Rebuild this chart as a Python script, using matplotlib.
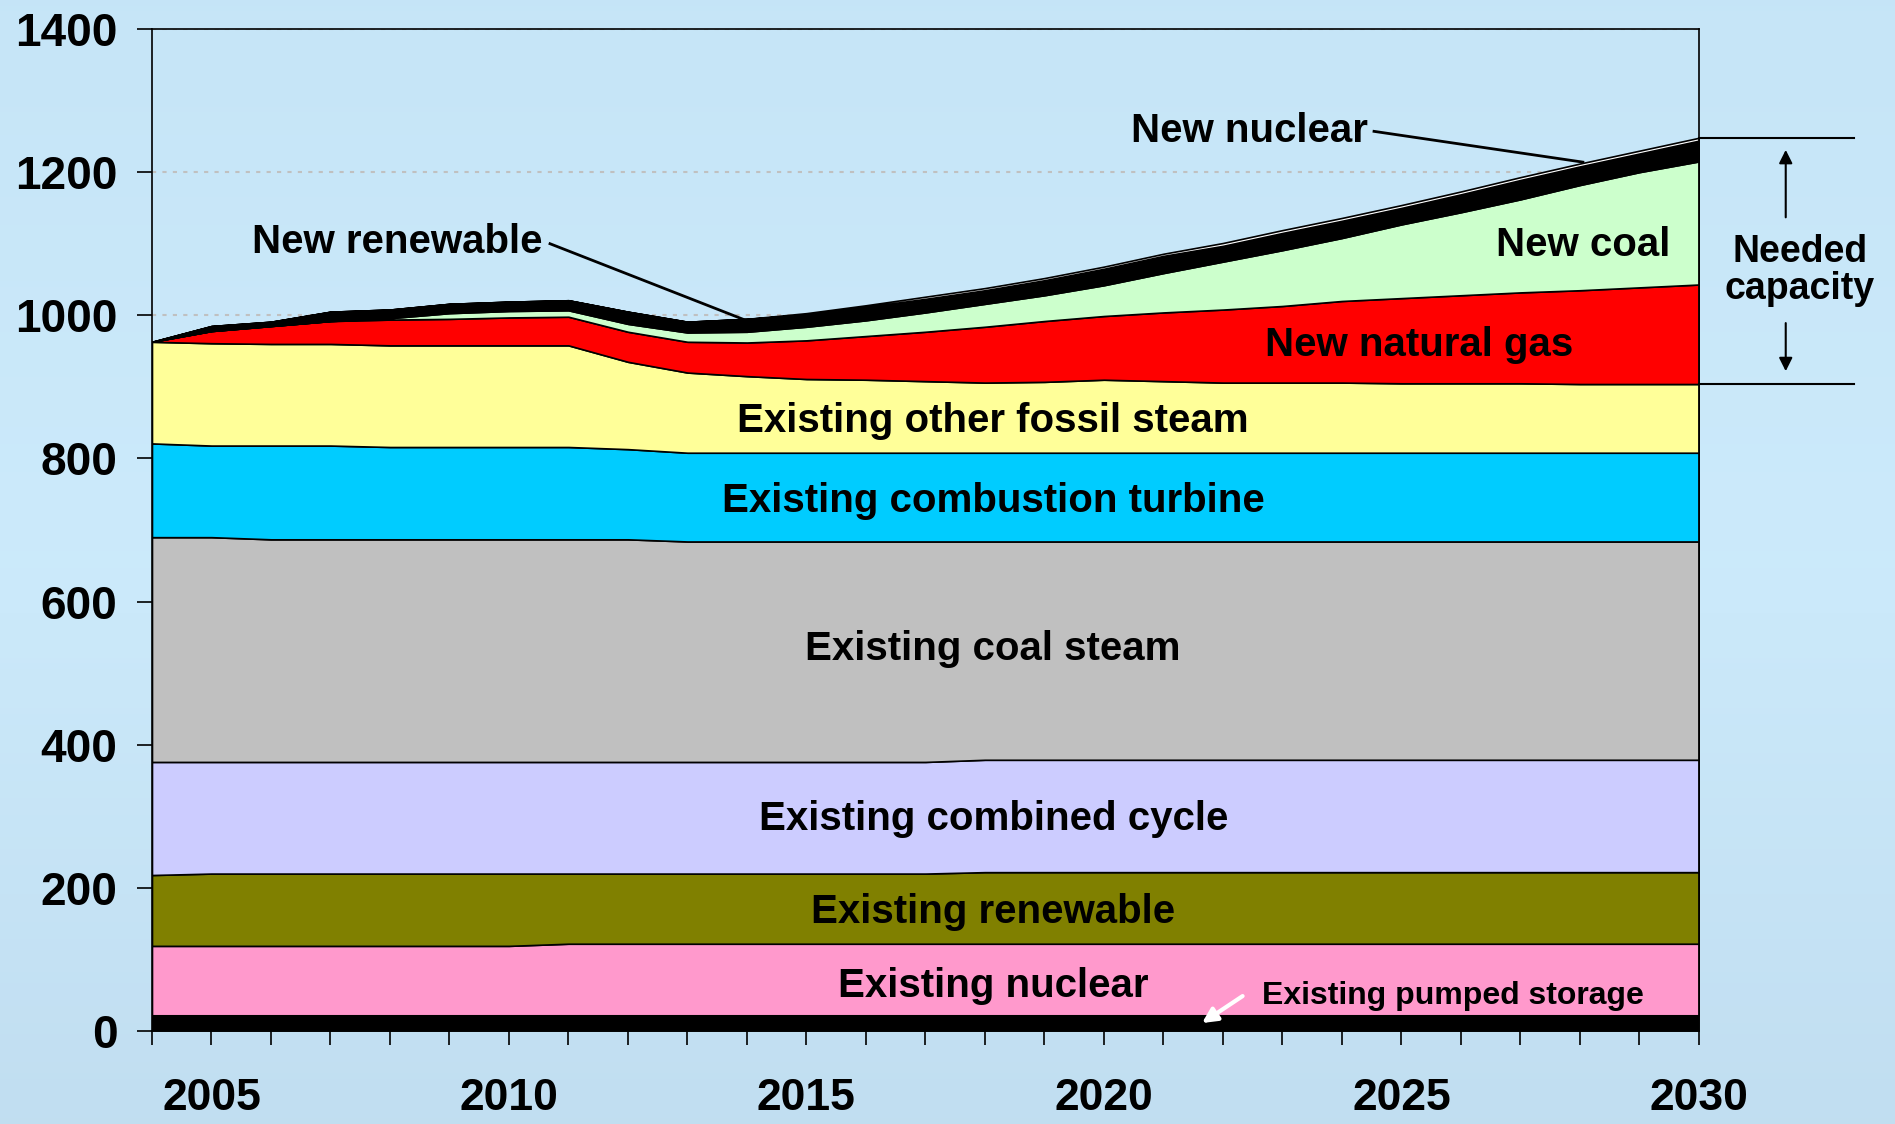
import numpy as np
import matplotlib.pyplot as plt

plt.rcParams['font.family'] = ['Liberation Sans', 'DejaVu Sans']
plt.rcParams['font.weight'] = 'bold'

# anos
years = list(range(2004, 2031))

# camadas (GW), de baixo para cima
pumped_storage = [22, 22, 22, 22, 22, 22, 22, 22, 22, 22, 22, 22, 22, 22,
                  22, 22, 22, 22, 22, 22, 22, 22, 22, 22, 22, 22, 22]
existing_nuclear = [97, 97, 97, 97, 97, 97, 97, 100, 100, 100, 100, 100, 100, 100,
                    100, 100, 100, 100, 100, 100, 100, 100, 100, 100, 100, 100, 100]
existing_renewable = [99, 101, 101, 101, 101, 101, 101, 98, 98, 98, 98, 98, 98, 98,
                      100, 100, 100, 100, 100, 100, 100, 100, 100, 100, 100, 100, 100]
combined_cycle = [158, 156, 156, 156, 156, 156, 156, 156, 156, 156, 156, 156, 156, 156,
                  157, 157, 157, 157, 157, 157, 157, 157, 157, 157, 157, 157, 157]
coal_steam = [314, 314, 311, 311, 311, 311, 311, 311, 311, 308, 308, 308, 308, 308,
              305, 305, 305, 305, 305, 305, 305, 305, 305, 305, 305, 305, 305]
combustion_turbine = [131, 128, 131, 131, 129, 129, 129, 129, 126, 124, 124, 124, 124, 124,
                      124, 124, 124, 124, 124, 124, 124, 124, 124, 124, 124, 124, 124]
other_fossil = [142, 143, 142, 142, 142, 142, 142, 142, 122, 112, 107, 103, 102, 100,
                98, 99, 102, 100, 98, 98, 98, 97, 97, 97, 96, 96, 96]
new_gas = [0, 17, 25, 32, 36, 37, 39, 40, 42, 43, 47, 54, 61, 69,
           78, 85, 89, 96, 102, 107, 114, 119, 123, 127, 131, 135, 139]
new_coal = [0, 0, 0, 0, 2, 8, 9, 9, 11, 13, 15, 19, 22, 27,
            32, 36, 43, 55, 67, 78, 88, 103, 116, 130, 147, 161, 172]
new_renewable = [0, 7, 6, 13, 12, 13, 13, 14, 17, 15, 18, 17, 19, 19,
                 19, 21, 23, 24, 22, 24, 24, 23, 25, 27, 26, 26, 29]
new_nuclear = [0, 0, 0, 0, 0, 0, 0, 0, 0, 0, 0, 2, 2, 3,
               3, 3, 3, 3, 4, 4, 4, 4, 4, 4, 4, 4, 4]

layers = [pumped_storage, existing_nuclear, existing_renewable, combined_cycle,
          coal_steam, combustion_turbine, other_fossil, new_gas, new_coal,
          new_renewable, new_nuclear]
cores = ['#000000', '#FF99CC', '#808000', '#CCCCFF', '#C0C0C0', '#00CCFF',
         '#FFFF99', '#FF0000', '#CCFFCC', '#000000', '#FFFFFF']

fig = plt.figure(figsize=(18.95, 11.24), dpi=100)

# fundo em degradê azul claro
bg = fig.add_axes([0, 0, 1, 1], zorder=-10)
grad = np.array([[0.776, 0.898, 0.969], [0.800, 0.918, 0.984], [0.757, 0.871, 0.945]])
t = np.linspace(0, 1, 200)
img = np.empty((200, 1, 3))
for c in range(3):
    img[:, 0, c] = np.interp(t, [0, 0.5, 1], grad[:, c])
bg.imshow(img, aspect='auto', extent=[0, 1, 0, 1])
bg.axis('off')

ax = fig.add_axes([0.0802, 0.0827, 0.8163, 0.8915])
ax.set_facecolor('none')

ax.stackplot(years, *layers, colors=cores, edgecolor='black', linewidth=1.2, zorder=2)

ax.set_xlim(2004, 2030)
ax.set_ylim(0, 1400)
ax.set_yticks(range(0, 1401, 200))
ax.set_xticks(years)
ax.set_xticklabels([str(a) if a % 5 == 0 else '' for a in years])
ax.yaxis.grid(True, color='#C0C0C0', linestyle=(0, (2, 3)), linewidth=1.5, zorder=0)
ax.set_axisbelow(True)
ax.tick_params(axis='x', direction='out', length=10, width=1.2, pad=24, labelsize=32)
ax.tick_params(axis='y', direction='out', length=11, width=1.2, pad=14, labelsize=33)
for s in ax.spines.values():
    s.set_linewidth(1.2)
for lbl in ax.get_xticklabels() + ax.get_yticklabels():
    lbl.set_fontweight('bold')

# rótulos das camadas
fs = 29
ax.text(2018.14, 853, 'Existing other fossil steam', ha='center', va='center', fontsize=fs, weight='bold')
ax.text(2018.14, 741, 'Existing combustion turbine', ha='center', va='center', fontsize=fs, weight='bold')
ax.text(2018.14, 534, 'Existing coal steam', ha='center', va='center', fontsize=fs, weight='bold')
ax.text(2018.14, 296, 'Existing combined cycle', ha='center', va='center', fontsize=fs, weight='bold')
ax.text(2018.14, 167, 'Existing renewable', ha='center', va='center', fontsize=fs, weight='bold')
ax.text(2018.14, 63, 'Existing nuclear', ha='center', va='center', fontsize=fs, weight='bold')
ax.text(2025.29, 959, 'New natural gas', ha='center', va='center', fontsize=fs, weight='bold')
ax.text(2028.05, 1098, 'New coal', ha='center', va='center', fontsize=fs, weight='bold')
ax.text(2022.45, 1258, 'New nuclear', ha='center', va='center', fontsize=fs, weight='bold')
ax.text(2008.13, 1103, 'New renewable', ha='center', va='center', fontsize=fs, weight='bold')
ax.text(2025.86, 49, 'Existing pumped storage', ha='center', va='center', fontsize=23, weight='bold')

# linhas de chamada
ax.plot([2024.54, 2028.05], [1257, 1214], color='black', linewidth=2, zorder=5)
ax.plot([2010.69, 2013.98], [1100, 993], color='black', linewidth=2, zorder=5)
ax.annotate('', xy=(2021.61, 9), xytext=(2022.37, 51),
            arrowprops=dict(arrowstyle='-|>', color='white', linewidth=3, mutation_scale=22),
            zorder=6)

# capacidade necessária
topo = sum(l[-1] for l in layers)
base = sum(l[-1] for l in layers[:7])
ax.plot([2030, 2032.6], [topo, topo], color='black', linewidth=1.5, clip_on=False)
ax.plot([2030, 2032.6], [base, base], color='black', linewidth=1.5, clip_on=False)
ax.annotate('', xy=(2031.46, topo - 13), xytext=(2031.46, 1133),
            arrowprops=dict(arrowstyle='-|>', color='black', linewidth=1.5, mutation_scale=20),
            annotation_clip=False)
ax.annotate('', xy=(2031.46, base + 14), xytext=(2031.46, 993),
            arrowprops=dict(arrowstyle='-|>', color='black', linewidth=1.5, mutation_scale=20),
            annotation_clip=False)
ax.text(2031.7, 1063, 'Needed\ncapacity', ha='center', va='center', fontsize=27,
        weight='bold', linespacing=1.05, clip_on=False)

fig.savefig('out.png', dpi=100)
